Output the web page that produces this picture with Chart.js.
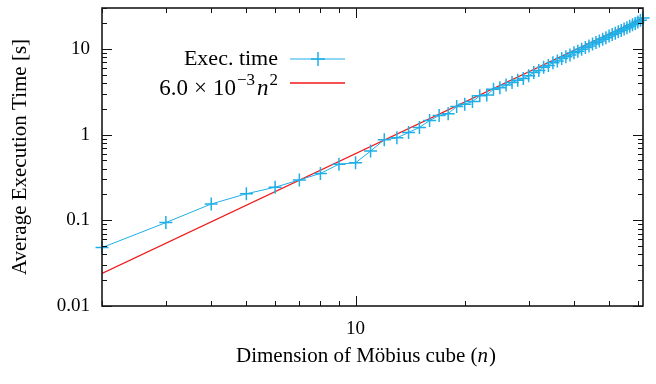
<!DOCTYPE html>
<html>
<head>
<meta charset="utf-8">
<script src="https://cdn.jsdelivr.net/npm/chart.js@4.4.1/dist/chart.umd.min.js"></script>
<style>
  html,body{margin:0;padding:0;background:#fff}
  #wrap{width:656px;height:384px}
</style>
</head>
<body>
<div id="wrap"><canvas id="c" width="656" height="384"></canvas></div>
<script>
// Möbius cube: average execution time vs dimension (log-log)
const dims = [2,3,4,5,6,7,8,9,10,11,12,13,14,15,16,17,18,19,20,21,22,23,24,25,26,27,28,29,30,
  31,32,33,34,35,36,37,38,39,40,41,42,43,44,45,46,47,48,49,50,51,52,53,54,55,56,57,58,59,60,61,62];
const execTimes = [0.048,0.094,0.155,0.204,0.243,0.296,0.352,0.452,0.468,0.643,0.87,0.916,1.06,1.21,1.46,
  1.67,1.75,2.13,2.26,2.43,2.83,2.90,3.37,3.52,3.78,4.06,4.31,4.51,4.85,
  5.3,5.6,6.1,6.4,6.9,7.2,7.7,8.1,8.5,9.0,9.4,9.9,10.4,10.8,11.4,11.9,12.4,13.0,13.5,14.1,
  14.7,15.2,15.9,16.4,17.1,17.7,18.4,19.1,19.8,20.6,21.6,23.0];
// fitted curve 6.0e-3 n^2 (straight on log-log, endpoints)
const fitDims = [2, 62];
const fitTimes = [0.024, 23.06];

const xTickValues = [10];
const xTickLabels = ['10'];
const yTickValues = [0.01, 0.1, 1, 10];
const yTickLabels = ['0.01', '0.1', '1', '10'];

const BLUE = '#1eaee8';
const RED = '#f01818';
const SERIF = "'Liberation Serif','DejaVu Serif',serif";

function minorTicks(min, max){
  const out = [];
  for(let d = Math.pow(10, Math.floor(Math.log10(min))); d <= max; d *= 10){
    for(let k = 1; k <= 9; k++){
      const v = +(k*d).toPrecision(6);
      if(v >= min*0.999 && v <= max*1.001) out.push({v, major: k===1});
    }
  }
  return out;
}

// draws a run of text pieces, left to right, vertically centred on y
function drawRun(ctx, parts, x, y){
  parts.forEach(p=>{
    ctx.font = p.f;
    if(p.gap) x += p.gap;
    ctx.fillText(p.t, x, y + (p.dy||0));
    x += ctx.measureText(p.t).width;
  });
}
function runWidth(ctx, parts){
  let w = 0;
  parts.forEach(p=>{ ctx.font = p.f; w += ctx.measureText(p.t).width + (p.gap||0); });
  return w;
}

const frame = {
  id: 'frame',
  afterDraw(chart){
    const {ctx, chartArea:a, scales:{x, y}} = chart;
    ctx.save();
    ctx.strokeStyle = '#111';
    ctx.lineWidth = 1;
    minorTicks(x.min, x.max).forEach(t=>{
      const px = Math.round(x.getPixelForValue(t.v)) + 0.5;
      const len = t.major ? 10 : 5;
      ctx.beginPath();
      ctx.moveTo(px, a.bottom); ctx.lineTo(px, a.bottom - len);
      ctx.moveTo(px, a.top); ctx.lineTo(px, a.top + len);
      ctx.stroke();
    });
    minorTicks(y.min, y.max).forEach(t=>{
      const py = Math.round(y.getPixelForValue(t.v)) + 0.5;
      const len = t.major ? 10 : 5;
      ctx.beginPath();
      ctx.moveTo(a.left, py); ctx.lineTo(a.left + len, py);
      ctx.moveTo(a.right, py); ctx.lineTo(a.right - len, py);
      ctx.stroke();
    });
    ctx.lineWidth = 1.6;
    ctx.strokeStyle = '#1a1a1a';
    ctx.strokeRect(a.left, a.top, a.right - a.left, a.bottom - a.top);

    // x axis label with italic n
    ctx.fillStyle = '#000';
    ctx.textBaseline = 'middle';
    ctx.textAlign = 'left';
    const xl = [
      {t:'Dimension of Möbius cube (', f:'21px ' + SERIF},
      {t:'n', f:'italic 21px ' + SERIF},
      {t:')', f:'21px ' + SERIF, gap:1}
    ];
    drawRun(ctx, xl, 366 - runWidth(ctx, xl)/2, 356);

    // key, gnuplot style: text right aligned, sample to the right
    const tx = 278, sx0 = 290, sx1 = 345;
    ctx.textAlign = 'right';
    ctx.font = '22px ' + SERIF;
    ctx.fillText('Exec. time', tx, 59);
    ctx.strokeStyle = BLUE; ctx.lineWidth = 1;
    ctx.beginPath(); ctx.moveTo(sx0, 59); ctx.lineTo(sx1, 59); ctx.stroke();
    ctx.lineWidth = 1.5;
    ctx.beginPath(); ctx.moveTo(311, 59); ctx.lineTo(325, 59); ctx.moveTo(318, 52); ctx.lineTo(318, 66); ctx.stroke();

    ctx.textAlign = 'left';
    const fit = [
      {t:'6.0', f:'23px ' + SERIF},
      {t:'×', f:'23px ' + SERIF, gap:6},
      {t:'10', f:'23px ' + SERIF, gap:6},
      {t:'−3', f:'17px ' + SERIF, dy:-8, gap:1},
      {t:'n', f:'italic 23px ' + SERIF, gap:2},
      {t:'2', f:'17px ' + SERIF, dy:-8, gap:1}
    ];
    drawRun(ctx, fit, tx - runWidth(ctx, fit), 89);
    ctx.strokeStyle = RED; ctx.lineWidth = 1.5;
    ctx.beginPath(); ctx.moveTo(sx0, 83); ctx.lineTo(sx1, 83); ctx.stroke();
    ctx.restore();
  }
};

new Chart(document.getElementById('c'), {
  type: 'line',
  data: {
    datasets: [
      { label: 'Exec. time', data: dims.map((n,i)=>({x:n, y:execTimes[i]})),
        borderColor: BLUE, backgroundColor: BLUE, borderWidth: 1,
        pointStyle: 'cross', pointRadius: 6.5, pointBorderWidth: 1.5, tension: 0, clip: false },
      { label: '6.0e-3 n^2', data: fitDims.map((n,i)=>({x:n, y:fitTimes[i]})),
        borderColor: RED, borderWidth: 1.2, pointRadius: 0, tension: 0 }
    ]
  },
  options: {
    responsive: false, animation: false,
    layout: { padding: { top: 6, right: 13, bottom: 0, left: 0 } },
    plugins: { legend: { display: false }, tooltip: { enabled: false } },
    scales: {
      x: {
        type: 'logarithmic', min: 2, max: 62,
        grid: { display: false, drawTicks: false },
        border: { display: false },
        afterBuildTicks: s => { s.ticks = xTickValues.map(v=>({value:v})); },
        afterFit: s => { s.height = 78; s.paddingLeft = 0; s.paddingRight = 0; },
        ticks: { autoSkip: false, maxRotation: 0, padding: 12, color: '#000',
          font: { family: SERIF, size: 19 },
          callback: v => xTickLabels[xTickValues.indexOf(v)] },
        title: { display: false }
      },
      y: {
        type: 'logarithmic', min: 0.01, max: 30,
        grid: { display: false, drawTicks: false },
        border: { display: false },
        afterBuildTicks: s => { s.ticks = yTickValues.map(v=>({value:v})); },
        afterFit: s => { s.width = 102; s.paddingTop = 0; s.paddingBottom = 0; },
        ticks: { autoSkip: false, padding: 12, color: '#000',
          font: { family: SERIF, size: 19 },
          callback: v => yTickLabels[yTickValues.indexOf(v)] },
        title: { display: true, text: 'Average Execution Time [s]', color: '#000',
          font: { family: SERIF, size: 21 }, padding: { top: 8, bottom: 0 } }
      }
    }
  },
  plugins: [frame]
});
</script>
</body>
</html>
